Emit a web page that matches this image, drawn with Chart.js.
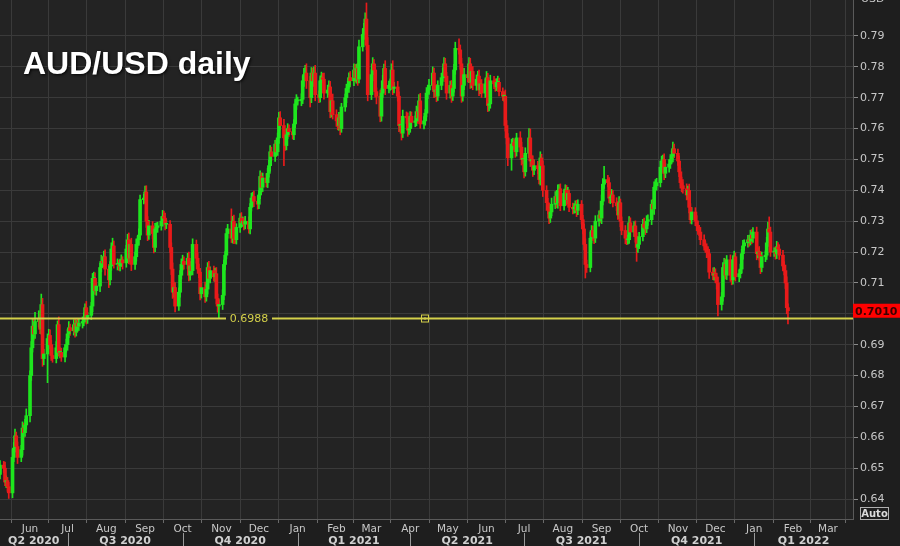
<!DOCTYPE html>
<html>
<head>
<meta charset="utf-8">
<script src="https://cdn.jsdelivr.net/npm/chart.js@4.4.1/dist/chart.umd.min.js"></script>
<style>
  html, body { margin: 0; padding: 0; background: #1e1e1e; }
  canvas { display: block; }
</style>
</head>
<body>
<canvas id="myChart" width="900" height="546"></canvas>
<script>
// AUD/USD daily candles, first bar is Fri 8 May 2020, one value per trading day
var firstOpen = 0.6480;
var closes = [
  0.6510,
  0.6500, 0.6455, 0.6460, 0.6440, 0.6420,
  0.6535, 0.6565, 0.6605, 0.6570, 0.6535,
  0.6560, 0.6630, 0.6615, 0.6640, 0.6670,
  0.6800, 0.6890, 0.6960, 0.6935, 0.6975,
  0.6985, 0.6950, 0.7030, 0.6855, 0.6870,
  0.6920, 0.6930, 0.6900, 0.6865, 0.6855,
  0.6890, 0.6965, 0.6875, 0.6875, 0.6860,
  0.6890, 0.6900, 0.6935, 0.6955, 0.6945,
  0.6965, 0.6940, 0.6970, 0.6960, 0.6970,
  0.6975, 0.6985, 0.7020, 0.6985, 0.6995,
  0.7025, 0.7115, 0.7115, 0.7075, 0.7090,
  0.7150, 0.7170, 0.7165, 0.7185, 0.7145,
  0.7110, 0.7155, 0.7210, 0.7220, 0.7160,
  0.7160, 0.7155, 0.7165, 0.7175, 0.7165,
  0.7210, 0.7240, 0.7180, 0.7225, 0.7160,
  0.7185, 0.7225, 0.7240, 0.7255, 0.7370,
  0.7375, 0.7395, 0.7300, 0.7255, 0.7285,
  0.7260, 0.7215, 0.7275, 0.7280, 0.7285,
  0.7300, 0.7315, 0.7310, 0.7290, 0.7290,
  0.7215, 0.7145, 0.7070, 0.7085, 0.7025,
  0.7070, 0.7125, 0.7160, 0.7170, 0.7160,
  0.7180, 0.7125, 0.7155, 0.7140, 0.7225,
  0.7180, 0.7145, 0.7135, 0.7065, 0.7085,
  0.7055, 0.7080, 0.7150, 0.7115, 0.7140,
  0.7120, 0.7130, 0.7050, 0.7025, 0.7030,
  0.7060, 0.7160, 0.7190, 0.7260, 0.7275,
  0.7245, 0.7300, 0.7245, 0.7240, 0.7280,
  0.7310, 0.7295, 0.7300, 0.7290, 0.7300,
  0.7275, 0.7345, 0.7375, 0.7380, 0.7365,
  0.7355, 0.7385, 0.7445, 0.7410, 0.7440,
  0.7425, 0.7455, 0.7480, 0.7525, 0.7510,
  0.7550, 0.7525, 0.7570, 0.7635, 0.7610,
  0.7570, 0.7545, 0.7580, 0.7600, 0.7590,
  0.7580, 0.7615, 0.7680, 0.7690, 0.7690,
  0.7695, 0.7755, 0.7775, 0.7780, 0.7755,
  0.7700, 0.7780, 0.7755, 0.7780, 0.7710,
  0.7700, 0.7755, 0.7765, 0.7760, 0.7715,
  0.7725, 0.7735, 0.7655, 0.7690, 0.7645,
  0.7625, 0.7610, 0.7635, 0.7600, 0.7670,
  0.7700, 0.7730, 0.7735, 0.7765, 0.7755,
  0.7790, 0.7765, 0.7795, 0.7760, 0.7865,
  0.7905, 0.7925, 0.7955, 0.7870, 0.7710,
  0.7775, 0.7810, 0.7790, 0.7720, 0.7705,
  0.7640, 0.7715, 0.7755, 0.7795, 0.7730,
  0.7740, 0.7745, 0.7790, 0.7730, 0.7735,
  0.7705, 0.7610, 0.7610, 0.7585, 0.7640,
  0.7635, 0.7595, 0.7600, 0.7640, 0.7620,
  0.7625, 0.7655, 0.7635, 0.7690, 0.7615,
  0.7625, 0.7650, 0.7715, 0.7725, 0.7740,
  0.7780, 0.7720, 0.7725, 0.7705, 0.7740,
  0.7765, 0.7780, 0.7810, 0.7770, 0.7715,
  0.7740, 0.7705, 0.7730, 0.7790, 0.7860,
  0.7855, 0.7810, 0.7705, 0.7740, 0.7775,
  0.7765, 0.7810, 0.7750, 0.7785, 0.7740,
  0.7760, 0.7770, 0.7725, 0.7745, 0.7715,
  0.7745, 0.7765, 0.7675, 0.7680, 0.7755,
  0.7745, 0.7735, 0.7750, 0.7750, 0.7720,
  0.7705, 0.7705, 0.7610, 0.7570, 0.7505,
  0.7550, 0.7555, 0.7545, 0.7525, 0.7570,
  0.7540, 0.7500, 0.7500, 0.7460, 0.7520,
  0.7570, 0.7495, 0.7500, 0.7465, 0.7480,
  0.7470, 0.7435, 0.7505, 0.7480, 0.7400,
  0.7360, 0.7340, 0.7310, 0.7330, 0.7355,
  0.7380, 0.7360, 0.7400, 0.7405, 0.7350,
  0.7390, 0.7400, 0.7370, 0.7390, 0.7345,
  0.7340, 0.7345, 0.7350, 0.7335, 0.7355,
  0.7305, 0.7275, 0.7225, 0.7160, 0.7150,
  0.7245, 0.7270, 0.7250, 0.7245, 0.7300,
  0.7320, 0.7310, 0.7365, 0.7420, 0.7435,
  0.7425, 0.7375, 0.7375, 0.7385, 0.7360,
  0.7350, 0.7320, 0.7360, 0.7300, 0.7270,
  0.7245, 0.7240, 0.7240, 0.7295, 0.7265,
  0.7285, 0.7250, 0.7215, 0.7225, 0.7250,
  0.7290, 0.7280, 0.7275, 0.7300, 0.7305,
  0.7355, 0.7340, 0.7410, 0.7415, 0.7425,
  0.7475, 0.7495, 0.7500, 0.7455, 0.7475,
  0.7485, 0.7500, 0.7510, 0.7535, 0.7520,
  0.7495, 0.7460, 0.7425, 0.7415, 0.7405,
  0.7385, 0.7400, 0.7345, 0.7305, 0.7330,
  0.7300, 0.7285, 0.7275, 0.7265, 0.7240,
  0.7220, 0.7215, 0.7200, 0.7195, 0.7135,
  0.7125, 0.7130, 0.7120, 0.7100, 0.7030,
  0.7055, 0.7150, 0.7160, 0.7125, 0.7175,
  0.7125, 0.7110, 0.7175, 0.7185, 0.7120,
  0.7130, 0.7145, 0.7195, 0.7220, 0.7230,
  0.7240, 0.7235, 0.7255, 0.7245, 0.7265,
  0.7195, 0.7200, 0.7190, 0.7150, 0.7185,
  0.7190, 0.7230, 0.7275, 0.7265, 0.7200,
  0.7200, 0.7195, 0.7215, 0.7210, 0.7190,
  0.7155, 0.7140, 0.7100, 0.7020, 0.7010
];
// wick length above / below the body, in pips
var wickUp = [
  15,
  12, 20, 15, 10, 14,  25, 18, 22, 12, 15,  14, 20, 16, 18, 22,  15, 20, 25, 22, 30,
  25, 18, 34, 20, 15,  15, 20, 18, 14, 25,  20, 12, 25, 15, 14,  10, 18, 14, 20, 12,
  16, 18, 10, 14, 12,  15, 18, 12, 20, 10,  12, 16, 20, 18, 10,  14, 20, 15, 18, 22,
  15, 14, 20, 25, 16,  18, 14, 12, 16, 10,  12, 18, 22, 14, 20,  15, 18, 12, 20, 15,
  12, 19, 20, 15, 18,  14, 20, 18, 15, 12,  15, 20, 18, 16, 14,  12, 15, 20, 18, 16,
  14, 15, 18, 20, 15,  16, 20, 14, 12, 18,  14, 18, 16, 12, 15,  18, 14, 16, 20, 12,
  15, 18, 20, 14, 16,  18, 14, 12, 16, 15,  65, 16, 20, 14, 12,  15, 18, 14, 12, 16,
  14, 12, 16, 14, 18,  15, 14, 18, 12, 16,  14, 16, 18, 20, 15,  12, 14, 16, 18, 20,
  20, 14, 18, 16, 12,  15, 14, 16, 20, 12,  18, 16, 20, 25, 30,  14, 18, 16, 20, 25,
  12, 16, 18, 14, 20,  16, 20, 18, 14, 22,  16, 20, 18, 14, 12,  12, 14, 18, 16, 20,
  20, 18, 14, 16, 22,  18, 16, 20, 52, 25,  16, 20, 14, 18, 12,  20, 16, 18, 14, 25,
  14, 16, 20, 30, 15,  18, 14, 16, 12, 20,  14, 16, 12, 15, 14,  16, 18, 14, 20, 24,
  14, 12, 18, 16, 20,  20, 16, 14, 18, 15,  14, 16, 20, 18, 12,  14, 16, 12, 18, 20,
  31, 16, 18, 14, 20,  12, 20, 18, 14, 16,  14, 16, 20, 12, 14,  16, 20, 14, 12, 18,
  14, 16, 12, 20, 14,  12, 14, 20, 16, 14,  16, 14, 12, 18, 15,  20, 16, 14, 12, 18,
  30, 29, 14, 12, 18,  14, 16, 20, 12, 14,  15, 14, 18, 16, 20,  16, 20, 18, 14, 16,
  14, 18, 16, 20, 12,  14, 12, 16, 18, 14,  12, 14, 16, 18, 14,  20, 16, 14, 12, 18,
  14, 16, 20, 18, 43,  14, 16, 12, 18, 14,  16, 14, 20, 12, 14,  16, 12, 14, 20, 16,
  14, 16, 12, 18, 14,  16, 20, 14, 18, 16,  14, 16, 18, 20, 14,  20, 16, 14, 18, 12,
  14, 16, 18, 21, 15,  14, 16, 12, 18, 20,  16, 14, 20, 12, 14,  14, 18, 16, 12, 15,
  16, 14, 12, 18, 14,  14, 20, 16, 12, 18,  14, 16, 20, 18, 14,  16, 20, 14, 18, 12,
  12, 16, 14, 18, 10,  14, 12, 16, 18, 14,  16, 14, 18, 12, 15,  14, 18, 22, 39, 16,
  14, 18, 20, 16, 14,  16, 14, 18, 20, 12
];
var wickDown = [
  15,
  14, 12, 18, 15, 18,  16, 14, 12, 18, 20,  14, 18, 16, 12, 14,  20, 16, 14, 20, 15,
  18, 14, 16, 25, 20,  93, 18, 14, 16, 12,  14, 16, 12, 18, 14,  16, 14, 18, 12, 15,
  14, 16, 12, 18, 14,  16, 14, 12, 18, 16,  14, 18, 16, 12, 15,  18, 14, 16, 12, 20,
  25, 16, 14, 18, 12,  18, 14, 16, 12, 20,  14, 16, 18, 12, 20,  16, 14, 12, 18, 14,
  14, 16, 20, 18, 14,  16, 18, 14, 12, 16,  14, 16, 12, 18, 14,  16, 18, 20, 16, 19,
  14, 16, 12, 18, 15,  14, 18, 16, 12, 14,  16, 14, 18, 20, 14,  18, 14, 16, 12, 15,
  14, 16, 18, 20, 39,  16, 14, 18, 12, 15,  14, 16, 18, 12, 14,  16, 14, 12, 18, 15,
  14, 16, 12, 14, 18,  16, 14, 12, 18, 14,  14, 16, 12, 18, 14,  16, 14, 12, 18, 14,
  90, 16, 14, 12, 15,  14, 16, 12, 18, 14,  16, 14, 18, 20, 25,  30, 16, 14, 18, 20,
  16, 14, 18, 12, 20,  14, 16, 20, 18, 14,  18, 14, 16, 20, 12,  14, 16, 12, 18, 14,
  16, 14, 18, 20, 12,  14, 16, 18, 14, 20,  16, 20, 14, 18, 25,  18, 16, 14, 12, 20,
  14, 16, 18, 20, 14,  16, 20, 18, 22, 14,  18, 20, 14, 12, 16,  14, 16, 18, 12, 14,
  16, 14, 12, 18, 14,  14, 20, 16, 18, 14,  14, 12, 16, 18, 20,  16, 20, 14, 12, 14,
  14, 18, 20, 16, 14,  14, 16, 20, 18, 14,  16, 14, 18, 12, 14,  14, 16, 20, 18, 14,
  16, 14, 12, 18, 14,  14, 16, 18, 20, 25,  40, 16, 14, 18, 14,  16, 18, 14, 20, 14,
  14, 18, 16, 20, 14,  16, 14, 18, 12, 20,  25, 16, 18, 14, 12,  14, 16, 18, 12, 16,
  14, 16, 18, 12, 14,  16, 14, 18, 20, 14,  14, 16, 18, 44, 16,  14, 16, 12, 18, 14,
  16, 14, 18, 12, 14,  14, 16, 18, 12, 14,  16, 14, 12, 18, 14,  18, 16, 14, 12, 16,
  14, 18, 45, 16, 14,  14, 16, 18, 12, 14,  16, 14, 18, 12, 14,  14, 16, 18, 20, 14,
  16, 14, 12, 18, 14,  14, 16, 18, 20, 14,  16, 14, 18, 12, 14,  14, 16, 18, 12, 16,
  14, 16, 18, 12, 20,  14, 16, 18, 20, 37,  18, 14, 16, 12, 14,  20, 16, 14, 18, 14,
  16, 14, 12, 18, 14,  14, 16, 12, 18, 14,  20, 14, 16, 20, 14,  16, 14, 12, 18, 14,
  14, 18, 16, 12, 14,  16, 14, 18, 20, 43
];

var yTicks = [0.64, 0.65, 0.66, 0.67, 0.68, 0.69, 0.70, 0.71, 0.72, 0.73, 0.74, 0.75, 0.76, 0.77, 0.78, 0.79];
var monthLabels = ['Jun', 'Jul', 'Aug', 'Sep', 'Oct', 'Nov', 'Dec', 'Jan', 'Feb', 'Mar', 'Apr', 'May',
                   'Jun', 'Jul', 'Aug', 'Sep', 'Oct', 'Nov', 'Dec', 'Jan', 'Feb', 'Mar'];
var quarterLabels = ['Q2 2020', 'Q3 2020', 'Q4 2020', 'Q1 2021', 'Q2 2021', 'Q3 2021', 'Q4 2021', 'Q1 2022'];
var supportLevel = 0.6988;
var lastPrice = 0.7010;

var DAY = 86400000;
var dayZero = Date.UTC(2020, 5, 1);

// trading days (weekdays) as day numbers from 1 Jun 2020
var days = [];
for (var t = Date.UTC(2020, 4, 8); days.length < closes.length; t += DAY) {
    var wd = new Date(t).getUTCDay();
    if (wd === 0 || wd === 6) continue;
    days.push(Math.round((t - dayZero) / DAY));
}
var opens = closes.map(function(c, i) { return i === 0 ? firstOpen : closes[i - 1]; });
var highs = closes.map(function(c, i) { return Math.max(opens[i], c) + wickUp[i] / 10000; });
var lows = closes.map(function(c, i) { return Math.min(opens[i], c) - wickDown[i] / 10000; });
var candleColors = closes.map(function(c, i) { return c >= opens[i] ? '#1ee61e' : '#e81a1a'; });

var monthDays = monthLabels.map(function(m, i) {
    return Math.round((Date.UTC(2020, 5 + i, 1) - dayZero) / DAY);
});
var quarterDays = quarterLabels.map(function(q, i) {
    return [Math.round((Date.UTC(2020, 3 + 3 * i, 1) - dayZero) / DAY),
            Math.round((Date.UTC(2020, 6 + 3 * i, 1) - dayZero) / DAY)];
});

var overlay = {
    id: 'overlay',
    beforeDraw: function(chart) {
        var c = chart.ctx, a = chart.chartArea;
        c.save();
        c.fillStyle = '#1e1e1e';
        c.fillRect(0, 0, chart.width, chart.height);
        c.fillStyle = '#232323';
        c.fillRect(a.left, a.top, a.right - a.left, a.bottom - a.top);
        c.restore();
    },
    afterDraw: function(chart) {
        var c = chart.ctx, a = chart.chartArea;
        var xs = chart.scales.x, ys = chart.scales.y;
        c.save();

        // support line at 0.6988
        var ly = Math.round(ys.getPixelForValue(supportLevel)) + 0.5;
        c.strokeStyle = '#d4d04a';
        c.lineWidth = 2;
        c.beginPath();
        c.moveTo(a.left, ly); c.lineTo(226, ly);
        c.moveTo(272, ly); c.lineTo(a.right, ly);
        c.stroke();
        c.fillStyle = '#d4d04a';
        c.font = '11px "DejaVu Sans"';
        c.textBaseline = 'middle';
        c.textAlign = 'center';
        c.fillText(supportLevel.toFixed(4), 249, ly + 1);
        c.lineWidth = 1;
        c.strokeRect(421.5, ly - 3.5, 7, 7);
        c.fillRect(424, ly - 1, 2, 2);

        // title
        c.shadowColor = 'rgba(0,0,0,0.9)';
        c.shadowBlur = 3;
        c.shadowOffsetX = 1;
        c.shadowOffsetY = 1;
        c.fillStyle = '#ffffff';
        c.font = 'bold 32px "Liberation Sans", Arial, sans-serif';
        c.textAlign = 'left';
        c.textBaseline = 'alphabetic';
        c.fillText('AUD/USD daily', 23, 74);
        c.shadowColor = 'transparent';
        c.shadowBlur = 0;
        c.shadowOffsetX = 0;
        c.shadowOffsetY = 0;

        // quarter row
        c.fillStyle = '#d0d0d0';
        c.strokeStyle = '#9a9a9a';
        c.font = 'bold 11px "DejaVu Sans"';
        c.textAlign = 'center';
        c.textBaseline = 'middle';
        quarterDays.forEach(function(q, i) {
            var x0 = Math.max(xs.getPixelForValue(q[0]), a.left);
            var x1 = Math.min(xs.getPixelForValue(q[1]), a.right);
            c.fillText(quarterLabels[i], (x0 + x1) / 2, 541);
            if (q[0] > xs.min) {
                c.beginPath();
                c.moveTo(Math.round(x0) + 0.5, 533);
                c.lineTo(Math.round(x0) + 0.5, 546);
                c.stroke();
            }
        });

        // last price tag
        var py = ys.getPixelForValue(lastPrice);
        c.fillStyle = '#ff0000';
        c.fillRect(a.right, py - 7, chart.width - a.right, 14);
        c.fillStyle = '#3a0000';
        c.font = 'bold 11px "DejaVu Sans"';
        c.textAlign = 'left';
        c.fillText(lastPrice.toFixed(4), a.right + 2, py + 1);

        // unit label cut at the top
        c.fillStyle = '#c8c8c8';
        c.font = '11px "DejaVu Sans"';
        c.fillText('USD', a.right + 8, -1);

        // Auto box
        c.strokeStyle = '#b0b0b0';
        c.strokeRect(860.5, 507.5, 28, 12);
        c.fillStyle = '#dcdcdc';
        c.font = 'bold 10px "DejaVu Sans"';
        c.textAlign = 'center';
        c.fillText('Auto', 874.5, 514);
        c.restore();
    }
};

window.onload = function() {
    var ctx = document.getElementById('myChart').getContext('2d');
    var wickData = days.map(function(d, i) { return { x: d, y: [lows[i], highs[i]] }; });
    var bodyData = days.map(function(d, i) { return { x: d, y: [opens[i], closes[i]] }; });

    new Chart(ctx, {
        type: 'bar',
        data: {
            datasets: [{
                label: 'body',
                data: bodyData,
                backgroundColor: candleColors,
                barThickness: 3,
                minBarLength: 1,
                grouped: false,
                borderWidth: 0
            }, {
                label: 'wick',
                data: wickData,
                backgroundColor: candleColors,
                barThickness: 1,
                grouped: false,
                borderWidth: 0
            }]
        },
        options: {
            responsive: false,
            animation: false,
            layout: { padding: 0 },
            plugins: { legend: { display: false }, tooltip: { enabled: false } },
            scales: {
                x: {
                    type: 'linear',
                    min: -24,
                    max: 658,
                    offset: false,
                    afterBuildTicks: function(axis) {
                        axis.ticks = monthDays.map(function(v) { return { value: v }; });
                    },
                    afterFit: function(axis) {
                        axis.height = 27;
                        axis.paddingLeft = 0;
                        axis.paddingRight = 0;
                    },
                    ticks: {
                        autoSkip: false,
                        maxRotation: 0,
                        padding: 0,
                        color: '#c8c8c8',
                        font: { family: 'DejaVu Sans', size: 10.5 },
                        callback: function(v, i) { return monthLabels[i]; }
                    },
                    grid: { color: '#3a3a3a', tickLength: 4, tickColor: '#6a6a6a' },
                    border: { display: true, color: '#5a5a5a' }
                },
                y: {
                    position: 'right',
                    min: 0.79 - 483 / 3087,
                    max: 0.79 + 36 / 3087,
                    afterBuildTicks: function(axis) {
                        axis.ticks = yTicks.map(function(v) { return { value: v }; });
                    },
                    afterFit: function(axis) {
                        axis.width = 47;
                        axis.paddingTop = 0;
                        axis.paddingBottom = 0;
                    },
                    ticks: {
                        padding: 2,
                        color: '#c8c8c8',
                        font: { family: 'DejaVu Sans', size: 11 },
                        callback: function(v) { return v.toFixed(2); }
                    },
                    grid: { color: '#3a3a3a', tickLength: 5, tickColor: '#8a8a8a' },
                    border: { display: true, color: '#5a5a5a' }
                }
            }
        },
        plugins: [overlay]
    });
};
</script>
</body>
</html>
